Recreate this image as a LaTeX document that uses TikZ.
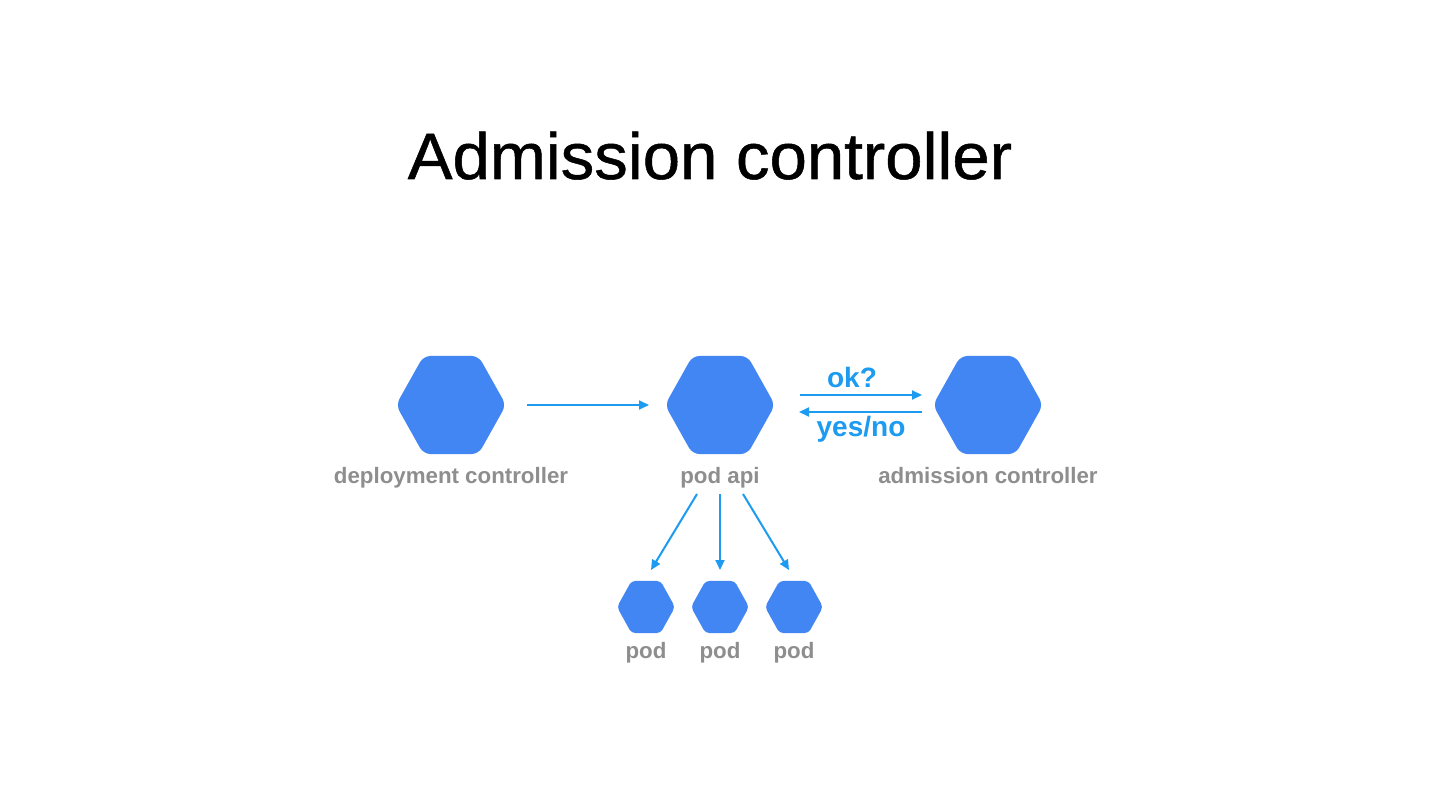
\documentclass[tikz,border=0pt]{standalone}
\usepackage{fontspec}
\setmainfont{Liberation Sans}
\newfontfamily\titlefont[FakeBold=0.8,FakeStretch=1.025]{Liberation Sans}
\usetikzlibrary{shapes.geometric,arrows.meta,calc}
\definecolor{hexblue}{RGB}{66,134,244}
\definecolor{arrblue}{RGB}{29,155,240}
\definecolor{lblgray}{RGB}{142,142,142}
\tikzset{
  hexbig/.style={regular polygon, regular polygon sides=6, minimum size=110pt, inner sep=0pt,
    fill=hexblue, draw=none, rounded corners=7pt, transform shape, yscale=1.03},
  hexsmall/.style={regular polygon, regular polygon sides=6, minimum size=58pt, inner sep=0pt,
    fill=hexblue, draw=none, rounded corners=4pt, transform shape, yscale=1.04},
  lbl/.style={anchor=base, text=lblgray, font=\bfseries\fontsize{22.3}{25}\selectfont, inner sep=0pt},
  msg/.style={anchor=base, text=arrblue, font=\bfseries\fontsize{28}{32}\selectfont, inner sep=0pt},
  arr/.style={draw=arrblue, line width=2pt, -{Triangle[length=10pt,width=9pt]}}
}
\begin{document}
\begin{tikzpicture}[x=1pt,y=-1pt]
\useasboundingbox (0,0) rectangle (1440,810);
\fill[white] (0,0) rectangle (1440,810);

\node[anchor=base, inner sep=0pt, font=\titlefont\fontsize{65.5}{72}\selectfont] (title) at (710,179) {Admission controller};

\node[hexbig] (dep) at (451,405) {};
\node[hexbig] (api) at (720,405) {};
\node[hexbig] (adm) at (988,405) {};

\node[lbl] (deplbl) at (451,483) {deployment controller};
\node[lbl] (apilbl) at (720,483) {pod api};
\node[lbl] (admlbl) at (988,483) {admission controller};

\node[hexsmall] (pod1) at (646,607) {};
\node[hexsmall] (pod2) at (720,607) {};
\node[hexsmall] (pod3) at (794,607) {};

\node[lbl] (pod1lbl) at (646,658) {pod};
\node[lbl] (pod2lbl) at (720,658) {pod};
\node[lbl] (pod3lbl) at (794,658) {pod};

\draw[arr] ($(dep)+(76,0)$) -- ($(api)+(-71,0)$);
\draw[arr] ($(api)+(80,-10)$) -- ($(adm)+(-66,-10)$);
\draw[arr] ($(adm)+(-66,7)$) -- ($(api)+(79,7)$);

\node[msg] (ok) at (852,387) {ok?};
\node[msg] (yn) at (861,436) {yes/no};

\draw[arr] ($(api)+(-23,89)$) -- ($(pod1)+(5,-37)$);
\draw[arr] ($(api)+(0,89)$) -- ($(pod2)+(0,-37)$);
\draw[arr] ($(api)+(23,89)$) -- ($(pod3)+(-5,-37)$);
\end{tikzpicture}
\end{document}
